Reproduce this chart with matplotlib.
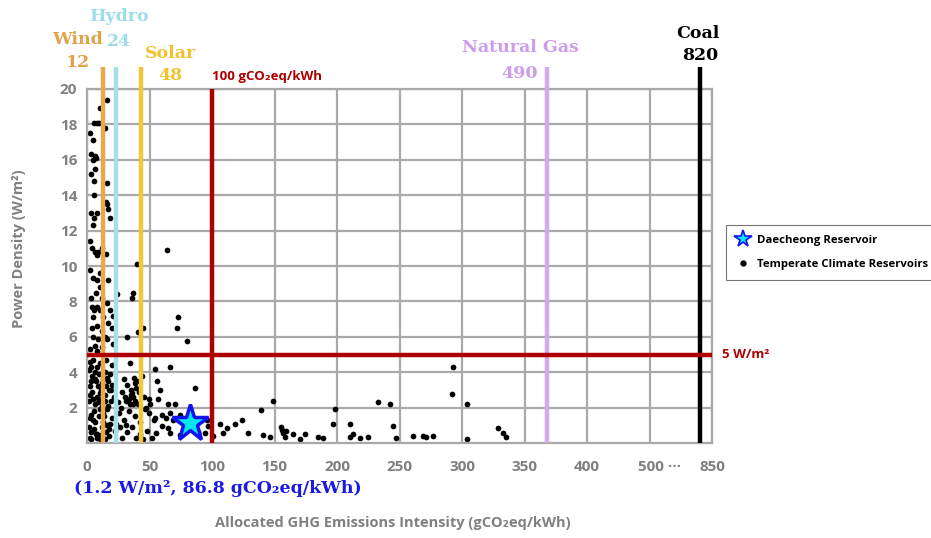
import matplotlib
matplotlib.use("Agg")
import matplotlib.pyplot as plt
from matplotlib.lines import Line2D
from matplotlib.transforms import ScaledTranslation

# temperate climate reservoirs
# x = allocated GHG intensity (gCO2eq/kWh), y = power density (W/m2)
high_x = [16, 10.5, 5.6, 8, 9.8, 14.5, 4.8, 6.6, 7.5, 4.8, 6.1, 3.2, 5.3, 16, 5.9, 15.2,
          3, 7.7, 5.6, 15.7, 17, 18.4, 4.5, 2.4, 6.4, 9, 15, 7.7, 64, 40, 10, 4.5, 7.7,
          17, 10.4, 7.2, 37, 35.7, 23.8, 3.8, 5.6, 7.7, 10.4, 18.4, 15.8, 5, 13, 21, 17,
          7.7, 3.8, 11.7, 19.7, 73, 72, 79.7, 45, 41, 31.7, 4.5, 9, 15.7, 21, 6.4, 11.7,
          3, 2.5, 4, 12, 2, 3.5, 12, 14, 2.5, 8]
high_y = [19.4, 18.9, 18.1, 18.1, 18.1, 17.8, 17.1, 16.2, 16.1, 16.0, 15.5, 15.2, 14.8, 14.7,
          14.0, 13.6, 13, 13, 12.7, 13.5, 13.2, 12.7, 12.3, 11.4, 10.8, 10.8, 10.7, 10.6,
          10.9, 10.1, 9.6, 9.3, 9.2, 9.2, 8.8, 8.5, 8.5, 8.2, 8.4, 7.7, 7.5, 7.7, 7.5, 7.5,
          7.9, 7.1, 7.1, 7.2, 6.8, 6.6, 6.5, 6.3, 6.5, 7.1, 6.5, 5.75, 6.5, 6.25, 6.0, 6.0,
          5.9, 5.9, 5.6, 5.5, 5.4, 16.3, 17.5, 11, 11, 9.8, 8.2, 8.2, 6, 5.3, 5.2]

low_x = [5, 10, 15.2, 34.4, 7.7, 54, 2.5, 20,
         4, 6.7, 9.3, 12, 16, 20, 29.3, 32, 37.3, 40, 44, 2, 3, 14, 18,
         4, 8, 10.7, 14.7, 17.3, 21.3, 28, 33.3, 36, 38.7, 41.3, 45.3, 50.7, 35, 37, 39,
         36.5, 1.5, 6, 12, 25,
         5.3, 9.3, 16, 20, 25.3, 29.3, 33.3, 38.7, 42.7, 49.3, 53.3, 2, 13, 23, 31, 46,
         5.3, 8, 12, 17.3, 22.7, 28, 32, 36, 42.7, 48, 52, 2, 3, 10, 15, 26, 39, 45,
         1.5, 3.5, 6, 7.5, 9, 11, 13, 15, 17, 19, 2.5, 5, 8.5, 11.5, 14, 16.5, 19,
         3, 6.5, 10, 13.5, 18, 1.5, 4.5, 7, 12.5, 16, 30, 34, 38, 40.5, 27, 31.5, 35.5,
         3.5, 8, 11, 14, 17.5]
low_y = [4.7, 4.5, 4.7, 4.5, 4.3, 4.2, 4.6, 4.4,
         3.8, 3.6, 3.9, 3.4, 3.7, 3.3, 3.6, 3.3, 3.7, 3.5, 3.8, 3.2, 3.5, 4.0, 3.9,
         2.9, 2.6, 2.8, 2.4, 3.0, 2.6, 2.9, 2.5, 2.8, 2.4, 2.9, 2.6, 2.2, 3.0, 2.6, 3.1,
         2.2, 2.4, 2.2, 2.1, 2.3,
         1.8, 1.5, 1.9, 1.4, 1.7, 1.3, 1.8, 1.5, 1.2, 1.7, 1.3, 1.4, 1.2, 1.1, 1.0, 1.9,
         0.8, 0.5, 0.9, 0.4, 0.7, 0.3, 0.6, 0.9, 0.5, 0.7, 0.3, 0.3, 0.6, 0.2, 0.6, 0.9,
         0.3, 0.25,
         4.1, 4.3, 4.0, 3.5, 3.2, 3.0, 3.6, 3.2, 3.5, 3.0, 2.7, 2.5, 2.3, 2.5, 2.7, 2.1, 2.4,
         1.6, 1.2, 1.9, 1.5, 1.1, 0.9, 1.3, 0.5, 1.7, 1.0, 2.6, 2.2, 3.4, 2.2, 2.0, 2.4, 2.7,
         0.2, 0.3, 0.45, 0.25, 0.8]

mid_x = [66.4, 86.4, 149, 139, 55.7, 58.4, 57, 65, 70.4, 49.8, 47.2, 59.7, 66.4, 63, 69,
         74.4, 54.4, 55, 65, 66.4, 74.4, 89, 94.4, 96.6, 95.7, 106, 112, 109, 118, 124, 129,
         141, 146, 156, 157, 158, 165, 174, 170, 185, 189, 293, 292, 304, 233, 242, 198,
         197, 210, 245, 210, 213, 218, 225, 247, 261, 269, 271, 277, 304, 329, 333, 335,
         155, 159, 60, 78, 84, 101]
mid_y = [4.3, 3.1, 2.4, 1.85, 3.5, 3.0, 2.5, 2.2, 2.2, 2.5, 2.0, 1.6, 1.7, 1.4, 1.3,
         1.6, 1.4, 0.55, 0.85, 0.55, 0.45, 0.6, 0.55, 0.95, 1.3, 1.1, 0.85, 0.55, 1.05, 1.3,
         0.55, 0.45, 0.35, 0.73, 0.55, 0.35, 0.5, 0.5, 0.2, 0.35, 0.3, 4.3, 2.75, 2.2, 2.3,
         2.2, 1.9, 1.07, 1.07, 0.95, 0.35, 0.5, 0.3, 0.35, 0.3, 0.4, 0.4, 0.35, 0.4, 0.2,
         0.85, 0.55, 0.35, 0.9, 0.7, 0.95, 0.9, 1.5, 0.4]

res_x = high_x + low_x + mid_x
res_y = high_y + low_y + mid_y

# Daecheong reservoir (position as drawn)
star_x, star_y = 82.5, 1.13

# reference technologies: name, label value, drawn position on the (broken) axis
ref_names = ["Wind", "Hydro", "Solar", "Natural Gas", "Coal"]
ref_values = ["12", "24", "48", "490", "820"]
ref_pos = [13, 23, 43, 368, 490]
ref_colors = ["#E8A84C", "#A8DFEC", "#F5C63C", "#D6A8F2", "#000000"]

limit_x = 100
limit_y = 5

tick_pos = [0, 50, 100, 150, 200, 250, 300, 350, 400, 450, 500]
tick_labels = ["0", "50", "100", "150", "200", "250", "300", "350", "400", "500 \u00b7\u00b7\u00b7", "850"]
ytick_pos = [2, 4, 6, 8, 10, 12, 14, 16, 18, 20]

red = "#AE0000"
gray = "#808080"
grid_c = "#A9A9A9"
sans = ["Open Sans", "DejaVu Sans"]
serif = ["DejaVu Serif"]

fig = plt.figure(figsize=(9.31, 5.38), dpi=100)
ax = fig.add_axes([87 / 931, 1 - 443 / 538, 625 / 931, 354 / 538])
ax.set_xlim(0, 500)
ax.set_ylim(0, 20)

ax.set_xticks(tick_pos)
ax.set_xticklabels(tick_labels)
ax.set_yticks(ytick_pos)
ax.tick_params(length=0, colors=gray, labelsize=11)
ax.tick_params(axis="x", pad=12)
ax.tick_params(axis="y", pad=7)
for lbl in ax.get_xticklabels() + ax.get_yticklabels():
    lbl.set_fontweight("bold")
    lbl.set_family(sans)
lbl = ax.get_xticklabels()[9]
lbl.set_transform(lbl.get_transform() + ScaledTranslation(10 / 100, 0, fig.dpi_scale_trans))

ax.grid(True, color=grid_c, linewidth=1.6, zorder=0)
ax.set_axisbelow(True)
for s in ax.spines.values():
    s.set_color(grid_c)
    s.set_linewidth(1.6)

ax.scatter(res_x, res_y, s=17, color="black", zorder=2, linewidths=0)

# vertical reference lines
top = 21.25
for x, c in zip(ref_pos, ref_colors):
    ax.plot([x, x], [0, top], color=c, lw=3.2, zorder=3, clip_on=False, solid_capstyle="butt")
ax.plot([limit_x, limit_x], [0, 20], color=red, lw=3.2, zorder=3, solid_capstyle="butt")
ax.axhline(limit_y, color=red, lw=3.2, zorder=3)

ax.plot(star_x, star_y, marker="*", markersize=28, mfc="#00E8F0", mec="#1212F0", mew=2.5,
        zorder=5, clip_on=False, ls="none")

# labels of reference lines
name_xy = [(-7.2, 22.77), (25.6, 24.07), (66.4, 22.03), (346.4, 22.32), (488.8, 23.16)]
val_xy = [(-7.2, 21.47), (25.6, 22.71), (66.4, 20.79), (346.4, 20.9), (490.4, 21.92)]
text_colors = ["#E3A24A", "#9CDCEB", "#F2C22E", "#CE9CEE", "#000000"]
for name, val, (nx, ny), (vx, vy), c in zip(ref_names, ref_values, name_xy, val_xy, text_colors):
    ax.text(nx, ny, name, ha="center", va="center", color=c, fontsize=12.5,
            fontweight="bold", family=serif, clip_on=False)
    ax.text(vx, vy, val, ha="center", va="center", color=c, fontsize=12.5,
            fontweight="bold", family=serif, clip_on=False)

ax.text(100, 20.73, "100 gCO\u2082eq/kWh", ha="left", va="center", color=red,
        fontsize=9.5, fontweight="bold", family=sans)
ax.text(508, limit_y, "5 W/m\u00b2", ha="left", va="center", color=red,
        fontsize=9.5, fontweight="bold", family=sans)
ax.text(104.8, -2.55, "(1.2 W/m\u00b2, 86.8 gCO\u2082eq/kWh)", ha="center", va="center",
        color="#1A1AE6", fontsize=12.5, fontweight="bold", family=serif)

ax.set_ylabel("Power Density (W/m\u00b2)", color=gray, fontsize=10.5, fontweight="bold",
              family=sans)
ax.yaxis.set_label_coords(-0.098, 0.548)
ax.set_xlabel("Allocated GHG Emissions Intensity (gCO\u2082eq/kWh)", color=gray,
              fontsize=10.5, fontweight="bold", family=sans)
ax.xaxis.set_label_coords(0.49, -0.205)

handles = [
    Line2D([], [], marker="*", ls="none", markersize=13, mfc="#00E8F0", mec="#1212F0", mew=1.2),
    Line2D([], [], marker="o", ls="none", markersize=3.5, color="black"),
]
leg = fig.legend(handles, ["Daecheong Reservoir", "Temperate Climate Reservoirs"],
                 loc="upper left", bbox_to_anchor=(726 / 931, 1 - 225 / 538),
                 borderaxespad=0, frameon=True, fancybox=False, handlelength=1.2,
                 handletextpad=0.6, borderpad=0.9, labelspacing=1.1,
                 prop={"family": sans, "size": 8.2, "weight": "bold"})
leg.get_frame().set_edgecolor("#555555")
leg.get_frame().set_linewidth(0.8)

fig.savefig("out.png", dpi=100)
